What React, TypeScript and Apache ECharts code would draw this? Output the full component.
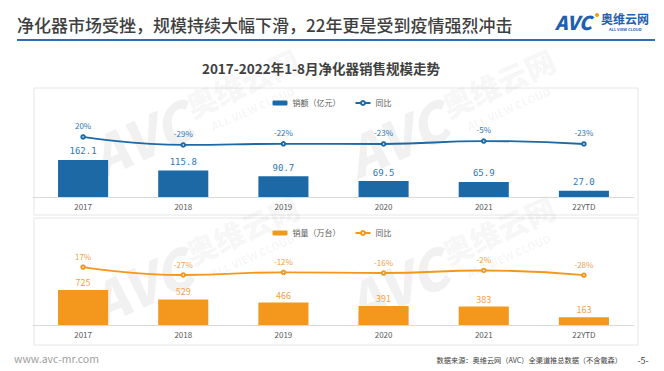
import React, { useEffect, useRef } from "react";
import * as echarts from "echarts";

const categories = ["2017", "2018", "2019", "2020", "2021", "22YTD"];
const salesValue = [162.1, 115.8, 90.7, 69.5, 65.9, 27.0];
const salesValueYoy = [20, -29, -22, -23, -5, -23];
const salesVolume = [725, 529, 466, 391, 383, 163];
const salesVolumeYoy = [17, -27, -12, -16, -2, -28];

const BLUE = "#1d69a6";
const BLUE_LABEL = "#2f78b8";
const ORANGE = "#f3981c";
const ORANGE_LABEL = "#f4a244";
const CJK = "'Noto Sans CJK SC', 'Noto Sans', sans-serif";
const WM = "rgba(0,0,0,0.055)";

function watermark(x: number, y: number) {
  return {
    type: "group",
    x,
    y,
    rotation: (24 * Math.PI) / 180,
    silent: true,
    children: [
      {
        type: "text",
        x: 0,
        y: 0,
        style: {
          text: "AVC",
          font: `italic 900 54px ${CJK}`,
          fill: WM,
          textVerticalAlign: "middle",
        },
      },
      {
        type: "text",
        x: 108,
        y: -8,
        style: {
          text: "奥维云网",
          font: `900 30px ${CJK}`,
          fill: WM,
          textVerticalAlign: "middle",
        },
      },
      {
        type: "text",
        x: 122,
        y: 20,
        style: {
          text: "ALL VIEW CLOUD",
          font: `bold 11px ${CJK}`,
          fill: WM,
          textVerticalAlign: "middle",
        },
      },
    ],
  };
}

export default function App() {
  const ref = useRef<HTMLDivElement>(null);

  useEffect(() => {
    if (!ref.current) return;
    const chart = echarts.init(ref.current, undefined, { renderer: "svg" });

    const axisCommon = {
      type: "category",
      data: categories,
      axisLine: { lineStyle: { color: "#d9d9d9", width: 1 } },
      axisTick: { show: false },
      axisLabel: { color: "#595959", fontSize: 8, margin: 5, fontFamily: CJK },
    };

    chart.setOption({
      animation: false,
      backgroundColor: "#ffffff",
      textStyle: { fontFamily: CJK },
      grid: [
        { left: 33, width: 601, top: 120, height: 77 },
        { left: 33, width: 601, top: 248, height: 77 },
      ],
      xAxis: [
        { ...axisCommon, gridIndex: 0 },
        { ...axisCommon, gridIndex: 1 },
      ],
      yAxis: [
        { type: "value", gridIndex: 0, min: 0, max: 337, show: false },
        { type: "value", gridIndex: 0, min: -348, max: 124, show: false },
        { type: "value", gridIndex: 1, min: 0, max: 1595, show: false },
        { type: "value", gridIndex: 1, min: -305, max: 123, show: false },
      ],
      legend: [
        {
          top: 94,
          left: "center",
          itemWidth: 15,
          itemHeight: 5,
          itemGap: 14,
          data: ["销额（亿元）", "同比1"],
          formatter: (n: string) => (n.indexOf("同比") === 0 ? "同比" : n),
          textStyle: { fontSize: 8, color: "#595959", fontFamily: CJK },
        },
        {
          top: 224,
          left: "center",
          itemWidth: 15,
          itemHeight: 5,
          itemGap: 14,
          data: ["销量（万台）", "同比2"],
          formatter: (n: string) => (n.indexOf("同比") === 0 ? "同比" : n),
          textStyle: { fontSize: 8, color: "#595959", fontFamily: CJK },
        },
      ],
      series: [
        {
          name: "销额（亿元）",
          type: "bar",
          xAxisIndex: 0,
          yAxisIndex: 0,
          data: salesValue,
          barWidth: "50%",
          itemStyle: { color: BLUE },
          label: {
            show: true,
            position: "top",
            distance: 4,
            color: BLUE_LABEL,
            fontSize: 9,
            fontFamily: "'DejaVu Sans Mono', monospace",
            formatter: (p: any) => Number(p.value).toFixed(1),
          },
        },
        {
          name: "同比1",
          type: "line",
          xAxisIndex: 0,
          yAxisIndex: 1,
          data: salesValueYoy,
          smooth: true,
          symbol: "emptyCircle",
          symbolSize: 3.5,
          itemStyle: { color: BLUE, borderWidth: 1 },
          lineStyle: { color: BLUE, width: 1.8 },
          label: {
            show: true,
            position: "top",
            distance: 5,
            color: BLUE_LABEL,
            fontSize: 8,
            formatter: "{c}%",
          },
        },
        {
          name: "销量（万台）",
          type: "bar",
          xAxisIndex: 1,
          yAxisIndex: 2,
          data: salesVolume,
          barWidth: "50%",
          itemStyle: { color: ORANGE },
          label: {
            show: true,
            position: "top",
            distance: 3,
            color: ORANGE_LABEL,
            fontSize: 9,
          },
        },
        {
          name: "同比2",
          type: "line",
          xAxisIndex: 1,
          yAxisIndex: 3,
          data: salesVolumeYoy,
          smooth: true,
          symbol: "emptyCircle",
          symbolSize: 3.5,
          itemStyle: { color: ORANGE, borderWidth: 1 },
          lineStyle: { color: ORANGE, width: 1.8 },
          label: {
            show: true,
            position: "top",
            distance: 4,
            color: ORANGE_LABEL,
            fontSize: 8,
            formatter: "{c}%",
          },
        },
      ],
      graphic: [
        watermark(92, 158),
        watermark(348, 158),
        watermark(92, 305),
        watermark(348, 305),
        {
          type: "text",
          x: 17,
          y: 24,
          style: {
            text: "净化器市场受挫，规模持续大幅下滑，22年更是受到疫情强烈冲击",
            font: `500 17px ${CJK}`,
            fill: "#3f3f3f",
            textVerticalAlign: "middle",
          },
        },
        {
          type: "rect",
          shape: { x: 17, y: 39, width: 638, height: 2 },
          style: { fill: "#2e6cb5" },
        },
        {
          type: "text",
          x: 555,
          y: 21,
          style: {
            text: "AVC",
            font: `italic 900 19px ${CJK}`,
            fill: "#1f5fb0",
            textVerticalAlign: "middle",
          },
        },
        {
          type: "circle",
          shape: { cx: 597, cy: 15, r: 2 },
          style: { fill: "#f39a1e" },
        },
        {
          type: "text",
          x: 601,
          y: 18,
          style: {
            text: "奥维云网",
            font: `bold 12px ${CJK}`,
            fill: "#1f5fb0",
            textVerticalAlign: "middle",
          },
        },
        {
          type: "text",
          x: 609,
          y: 29,
          style: {
            text: "ALL VIEW CLOUD",
            font: `bold 4px ${CJK}`,
            fill: "#1f5fb0",
            textVerticalAlign: "middle",
          },
        },
        {
          type: "text",
          x: 321,
          y: 68,
          style: {
            text: "2017-2022年1-8月净化器销售规模走势",
            font: `bold 13.5px ${CJK}`,
            fill: "#404040",
            textAlign: "center",
            textVerticalAlign: "middle",
          },
        },
        {
          type: "rect",
          z: -1,
          shape: { x: 34, y: 88, width: 604, height: 127 },
          style: { fill: "none", stroke: "#e6e6e6", lineWidth: 1 },
        },
        {
          type: "rect",
          z: -1,
          shape: { x: 34, y: 218, width: 604, height: 127 },
          style: { fill: "none", stroke: "#e6e6e6", lineWidth: 1 },
        },
        {
          type: "text",
          x: 14,
          y: 358,
          style: {
            text: "www.avc-mr.com",
            font: `10.5px ${CJK}`,
            fill: "#a0a0a0",
            textVerticalAlign: "middle",
          },
        },
        {
          type: "text",
          x: 622,
          y: 360,
          style: {
            text: "数据来源：奥维云网（AVC）全渠道推总数据（不含戴森）",
            font: `7.2px ${CJK}`,
            fill: "#404040",
            textAlign: "right",
            textVerticalAlign: "middle",
          },
        },
        {
          type: "text",
          x: 643,
          y: 360,
          style: {
            text: "-5-",
            font: `9px ${CJK}`,
            fill: "#404040",
            textAlign: "center",
            textVerticalAlign: "middle",
          },
        },
      ],
    });

    return () => chart.dispose();
  }, []);

  return (
    <div
      ref={ref}
      style={{ position: "fixed", left: 0, top: 0, width: 664, height: 371 }}
    />
  );
}
